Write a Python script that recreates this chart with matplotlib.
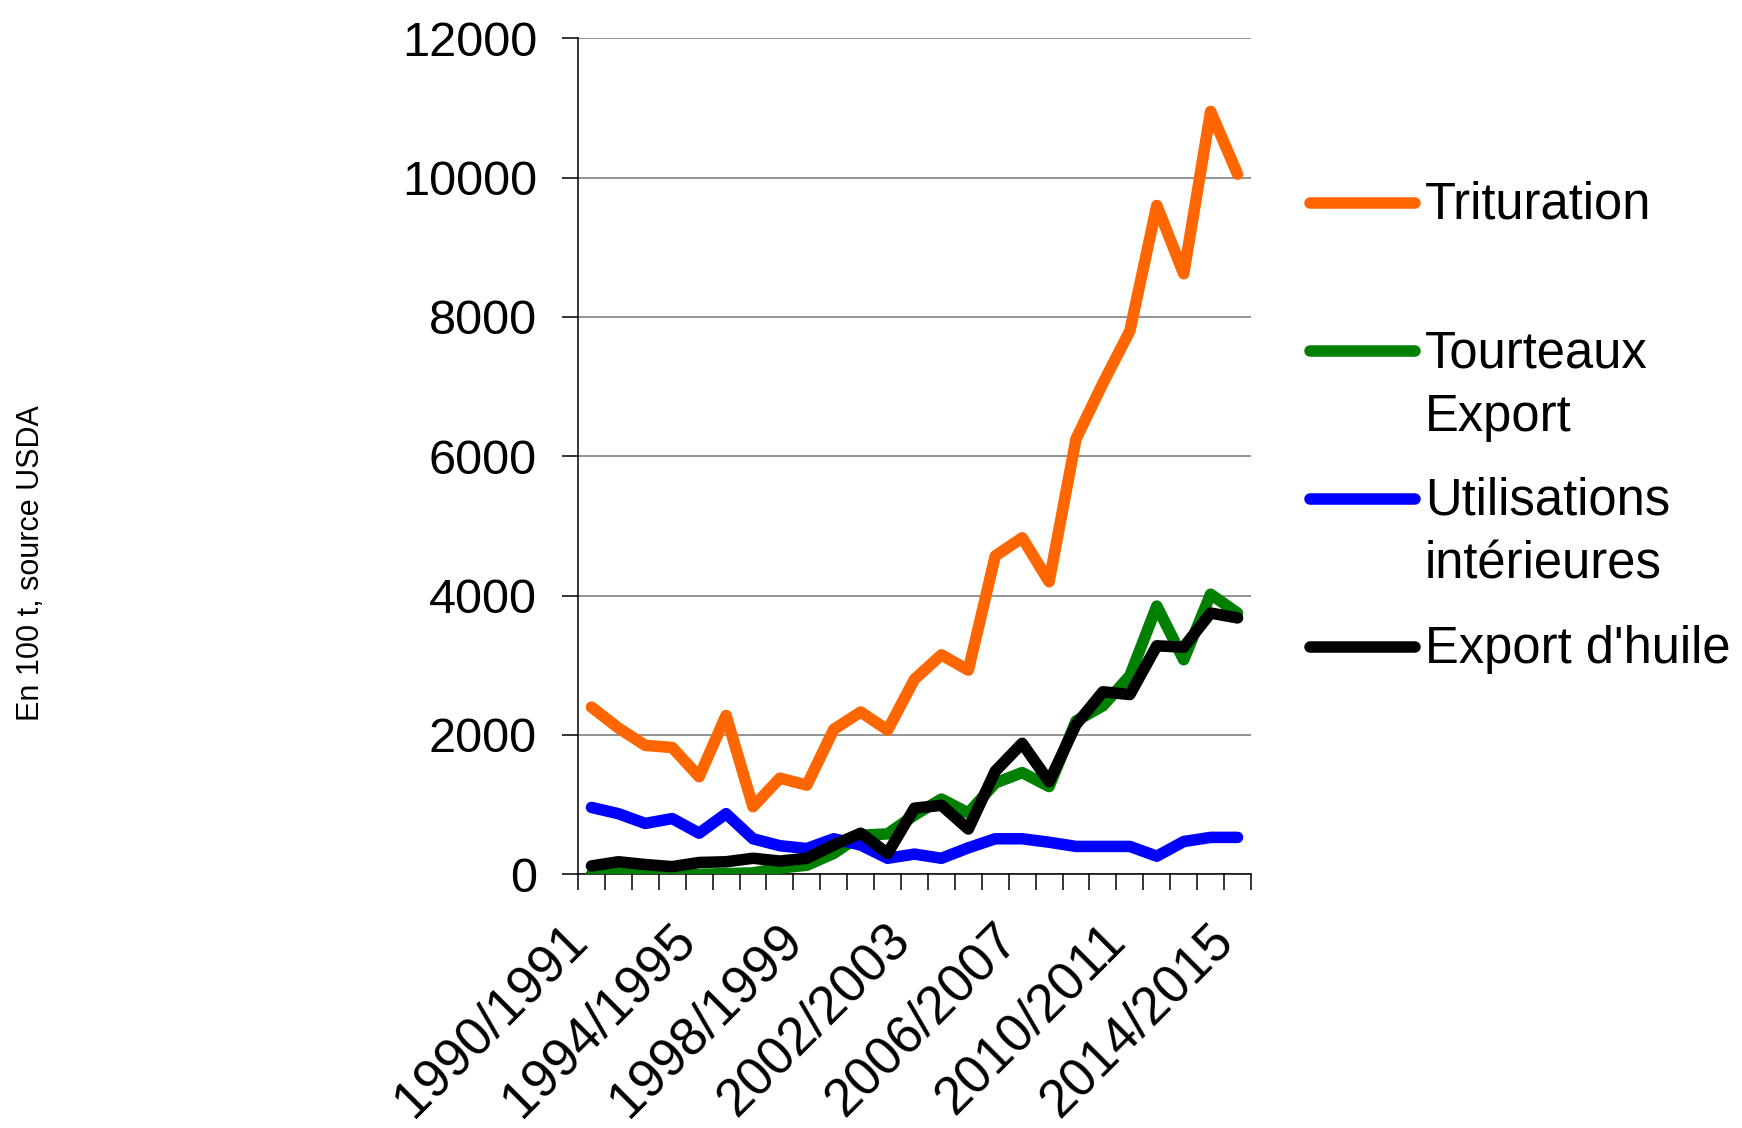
import numpy as np
import matplotlib
matplotlib.use("Agg")
import matplotlib.pyplot as plt
from matplotlib.lines import Line2D
from matplotlib.transforms import ScaledTranslation

plt.rcParams['font.family'] = ['Liberation Sans', 'DejaVu Sans']

# campagnes 1990/1991 .. 2014/2015
years = [f"{y}/{y + 1}" for y in range(1990, 2015)]

trituration = [2400, 2100, 1850, 1820, 1400, 2280, 970, 1380, 1280, 2080, 2330, 2070, 2800,
               3150, 2930, 4570, 4830, 4200, 6250, 7050, 7800, 9600, 8620, 10950, 10050]
tourteaux = [0, 20, 20, 0, 0, 10, 20, 90, 130, 300, 560, 580, 850,
             1080, 880, 1310, 1460, 1260, 2200, 2420, 2850, 3850, 3080, 4020, 3750]
utilisations = [960, 870, 730, 800, 590, 870, 510, 410, 370, 510, 420, 230, 290,
                230, 380, 510, 510, 460, 400, 400, 400, 260, 470, 530, 530]
huile = [120, 180, 140, 110, 170, 180, 230, 190, 230, 420, 590, 300, 950,
         990, 650, 1480, 1880, 1330, 2150, 2620, 2580, 3280, 3260, 3750, 3680]

series = [("Trituration", trituration, "#FF6600"),
          ("Tourteaux\nExport", tourteaux, "#008000"),
          ("Utilisations\nintérieures", utilisations, "#0000FF"),
          ("Export d'huile", huile, "#000000")]

W, H = 1742, 1128
fx = lambda px: px / W
fy = lambda py: 1 - py / H
LW = 8.3

fig = plt.figure(figsize=(W / 100, H / 100), dpi=100)
ax = fig.add_axes([fx(578), fy(874.3), (1251 - 578) / W, (874.3 - 38.3) / H])

x = np.arange(len(years))
for name, vals, color in series:
    ax.plot(x, vals, color=color, lw=LW, solid_capstyle='round', solid_joinstyle='round', zorder=3)

ax.set_xlim(-0.5, len(years) - 0.5)
ax.set_ylim(0, 12000)
ax.set_yticks(range(0, 12001, 2000))
ax.yaxis.grid(True, color='#808080', lw=1.2)
ax.set_axisbelow(True)
for s in ("top", "right"):
    ax.spines[s].set_visible(False)
for s in ("left", "bottom"):
    ax.spines[s].set_linewidth(1.1)

ax.set_xticks(x[::4], [years[i] for i in x[::4]], rotation=45, rotation_mode='anchor',
              ha='right', va='top')
ax.set_xticks(np.arange(-0.5, len(years), 1), minor=True)
ax.tick_params(axis='x', which='major', length=0, pad=29, labelsize=38)
ax.tick_params(axis='x', which='minor', length=11.5, width=1.1, direction='out')
ax.tick_params(axis='y', length=11.5, width=1.1, pad=18, labelsize=35)

shift = ScaledTranslation(-30 / 100, 0, fig.dpi_scale_trans)
for lab in ax.get_xticklabels():
    lab.set_transform(lab.get_transform() + shift)

fig.text(fx(31), fy(563), "En 100 t, source USDA", rotation=90, ha='center', va='center', fontsize=22)

# legende
key_y = [202.7, 351, 498.7, 646.7]
for (name, vals, color), ky in zip(series, key_y):
    fig.add_artist(Line2D([fx(1310), fx(1415)], [fy(ky), fy(ky)], color=color, lw=LW,
                          solid_capstyle='round'))
    for j, line in enumerate(name.split("\n")):
        fig.text(fx(1425), fy(ky + 16 + 63.5 * j), line, ha='left', va='baseline', fontsize=36.5)

fig.savefig("out.png", dpi=100)
